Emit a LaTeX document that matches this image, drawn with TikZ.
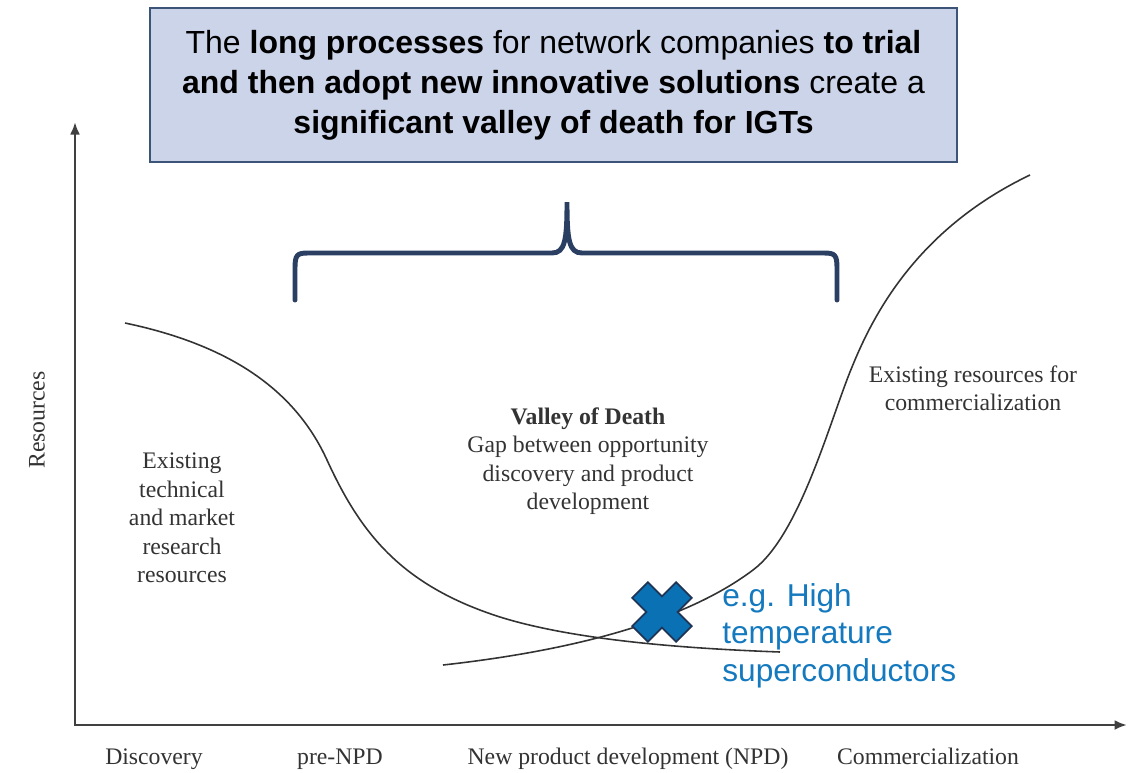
\documentclass[tikz,border=0pt]{standalone}
\usepackage{fontspec}
\setmainfont{Liberation Serif}
\newfontfamily\arialfont{Liberation Sans}
\usepackage{tikz}
\usetikzlibrary{arrows.meta}

\definecolor{boxfill}{HTML}{CBD4E8}
\definecolor{boxline}{HTML}{3B5478}
\definecolor{bracecol}{HTML}{2B3F63}
\definecolor{egblue}{HTML}{1479BE}
\definecolor{crossfill}{HTML}{0A72B4}
\definecolor{crossline}{HTML}{1F3556}

\begin{document}
\begin{tikzpicture}[x=0.02cm,y=-0.02cm]
                \tikzset{headbox/.style = {draw=boxline,line width=1.2pt,fill=boxfill,minimum width=807*0.02cm,minimum height=154*0.02cm,align=center,font=\arialfont\fontsize{18.2}{22.8}\selectfont}}
                \tikzset{axis/.style = {{Latex[length=2.5mm,width=2mm]}-{Latex[length=2.5mm,width=2mm]},line width=1.4pt,draw=black!75}}
                \tikzset{curve/.style = {line width=0.9pt,draw=black!80}}
                \tikzset{txt/.style = {align=center,font=\fontsize{13.5}{16.2}\selectfont,text=black!80}}
                \tikzset{stage/.style = {txt,anchor=base}}
                \tikzset{egtxt/.style = {align=left,anchor=north west,inner sep=0pt,text=egblue,font=\arialfont\fontsize{18}{21.3}\selectfont}}

                \useasboundingbox (0,0) rectangle (1133,772);

                \node[headbox] (head) at (553.5,85) {The \textbf{long processes} for network companies \textbf{to trial}\\
                \textbf{and then adopt new innovative solutions} create a\\
                \textbf{significant valley of death for IGTs}};

                \coordinate (origin) at (75,725);
                \coordinate (ytop) at (75,122);
                \coordinate (xend) at (1127,725);
                \draw[axis] (ytop) -- (origin) -- (xend);

                \node[txt,rotate=90] (res) at (37,420) {Resources};
                \node[stage] (disc) at (154,764) {Discovery};
                \node[stage] (prenpd) at (340,764) {pre-NPD};
                \node[stage] (npd) at (628,764) {New product development (NPD)};
                \node[stage] (comm) at (928,764) {Commercialization};

                \draw[curve] (125,323) .. controls (230,345) and (295,390) .. (327,460)
                    .. controls (360,532) and (400,585) .. (500,617)
                    .. controls (580,642) and (700,649) .. (780,652);
                \draw[curve] (443,665) .. controls (560,652) and (680,625) .. (753,570)
                    .. controls (800,535) and (830,420) .. (852,367)
                    .. controls (872,318) and (915,230) .. (1030,175);

                \coordinate (bl) at (295,300);
                \coordinate (br) at (837,300);
                \coordinate (btip) at (567,202);
                \draw[bracecol,line width=2.8pt,line cap=round] (bl) -- (295,268) .. controls (295,255) and (297,253) .. (308,253) -- (552,253) .. controls (565,253) and (567,240) .. (btip) .. controls (567,240) and (569,253) .. (582,253) -- (824,253) .. controls (835,253) and (837,255) .. (837,268) -- (br);

                \node[txt] (left) at (182,518) {Existing\\technical\\and market\\research\\resources};
                \node[txt] (valley) at (588,461) {\textbf{Valley of Death}\\Gap between opportunity\\discovery and product\\development};
                \node[txt] (right) at (973,388) {Existing resources for\\commercialization};

                \node (cross) at (662,612) {};
                \draw[crossline,fill=crossfill,line width=1pt,rotate around={45:(cross.center)},shift={(cross.center)}]
                    (-11,-31) -- (11,-31) -- (11,-11) -- (31,-11) -- (31,11) -- (11,11) -- (11,31) -- (-11,31) -- (-11,11) -- (-31,11) -- (-31,-11) -- (-11,-11) -- cycle;

                \node[egtxt] (eg) at (722,583) {e.g. High\\temperature\\superconductors};
\end{tikzpicture}
\end{document}
